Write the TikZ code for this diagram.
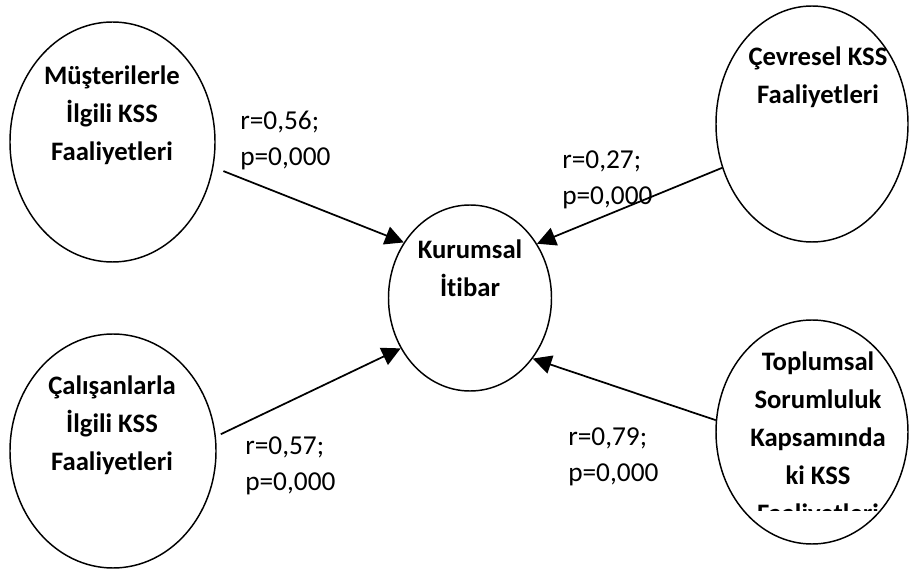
\documentclass[tikz,border=0pt]{standalone}
\usepackage{fontspec}
\setmainfont{Carlito}[Ligatures={NoCommon, TeX}]
\usepackage{tikz}
\usetikzlibrary{arrows.meta, positioning, shapes.geometric}

\begin{document}
\begin{tikzpicture}[x=0.75pt, y=-0.75pt,
  oval/.style={ellipse, draw, line width=1.1pt, inner sep=0pt},
  title/.style={font=\bfseries\fontsize{20}{28.5}\selectfont, align=center, inner sep=0pt},
  coef/.style={font=\fontsize{20.5}{27}\selectfont, align=left, anchor=west, inner sep=0pt},
  link/.style={-{Triangle[length=14pt, width=14pt]}, line width=1.3pt}]
  \useasboundingbox (0,0) rectangle (911,570);
  % Factors
  \node[oval, minimum width=153.75pt, minimum height=180pt] (must) at (112.5,142) {};
  \node[oval, minimum width=154.5pt, minimum height=175.5pt] (calis) at (113,451) {};
  \node[oval, minimum width=144pt, minimum height=177pt] (cevre) at (812,124) {};
  \node[oval, minimum width=144pt, minimum height=168pt] (toplum) at (812,432) {};
  \node[oval, minimum width=122.25pt, minimum height=139.5pt] (itibar) at (470,298) {};
  \node[title] (musttxt) at (112,115) {Müşterilerle\\İlgili KSS\\Faaliyetleri};
  \node[title] (calistxt) at (112,425) {Çalışanlarla\\İlgili KSS\\Faaliyetleri};
  \node[title] (cevretxt) at (818,77.5) {Çevresel KSS\\Faaliyetleri};
  \node[title] (itibartxt) at (470,268) {Kurumsal\\İtibar};
  \begin{scope}
    \clip (700,320) rectangle (911,510);
    \node[title] (toplumtxt) at (818,439) {Toplumsal\\Sorumluluk\\Kapsamında\\ki KSS\\Faaliyetleri};
  \end{scope}
  % Coefficients
  \node[coef] (r1) at (240,140) {r=0,56;\\p=0,000};
  \node[coef] (r2) at (562,180) {r=0,27;\\p=0,000};
  \node[coef] (r3) at (245,466) {r=0,57;\\p=0,000};
  \node[coef] (r4) at (568,457) {r=0,79;\\p=0,000};
  % Arrows
  \draw[link, shorten <=8pt] (must.-14) -- (itibar.140);
  \draw[link] (cevre.206) -- (itibar.39);
  \draw[link, shorten <=4pt] (calis.8) -- (itibar.216);
  \draw[link] (toplum.173) -- (itibar.-44);
\end{tikzpicture}
\end{document}
